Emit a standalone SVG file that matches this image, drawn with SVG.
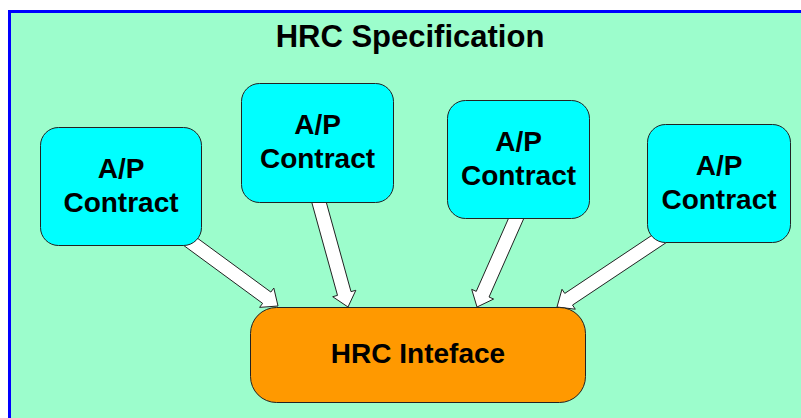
<svg xmlns="http://www.w3.org/2000/svg" width="801" height="418" viewBox="0 0 801 418">
<style>
.lbl{font-family:"Liberation Sans",Arial,sans-serif;font-weight:bold;fill:#000;text-anchor:middle}
.ap{fill:#00FFFF;stroke:#222;stroke-width:1}
.hrc{fill:#FF9900;stroke:#222;stroke-width:1}
.arr{fill:#FFFFFF;stroke:#222;stroke-width:1;stroke-linejoin:miter}
</style>
<rect x="0" y="0" width="801" height="418" fill="#FFFFFF"/>
<g id="frame">
<rect x="9.5" y="11.5" width="800" height="420" fill="#9CFDCC" stroke="#0000FF" stroke-width="3"/>
<text class="lbl" x="410" y="47" font-size="31">HRC Specification</text>
</g>
<g id="connectors">
<polygon class="arr" points="179.86,242.64 262.58,303.35 259.62,307.38 278,306 273.82,288.04 270.86,292.07 188.14,231.36"/>
<polygon class="arr" points="310.25,196.87 337.51,295.38 332.69,296.71 348,307 355.83,290.31 351.01,291.64 323.75,193.13"/>
<polygon class="arr" points="512.60,209.17 476.26,291.37 471.69,289.35 477,307 493.63,299.05 489.06,297.03 525.40,214.83"/>
<polygon class="arr" points="661.12,229.18 564.77,293.41 561.99,289.25 557,307 575.31,309.21 572.53,305.05 668.88,240.82"/>
</g>
<g id="ap1">
<rect class="ap" x="40.5" y="127.5" width="161" height="118" rx="18"/>
<text class="lbl" x="121" y="177.5" font-size="28">A/P</text>
<text class="lbl" x="121" y="211.5" font-size="28">Contract</text>
</g>
<g id="ap2">
<rect class="ap" x="241.5" y="83.5" width="152" height="119" rx="18"/>
<text class="lbl" x="317.5" y="134" font-size="28">A/P</text>
<text class="lbl" x="317.5" y="168" font-size="28">Contract</text>
</g>
<g id="ap3">
<rect class="ap" x="447.5" y="100.5" width="142" height="118" rx="18"/>
<text class="lbl" x="518.5" y="150.5" font-size="28">A/P</text>
<text class="lbl" x="518.5" y="184.5" font-size="28">Contract</text>
</g>
<g id="ap4">
<rect class="ap" x="647.5" y="124.5" width="143" height="118" rx="18"/>
<text class="lbl" x="719" y="174.5" font-size="28">A/P</text>
<text class="lbl" x="719" y="208.5" font-size="28">Contract</text>
</g>
<g id="hrc">
<rect class="hrc" x="250.5" y="307.5" width="335" height="95" rx="26"/>
<text class="lbl" x="418" y="363" font-size="28">HRC Inteface</text>
</g>
</svg>
